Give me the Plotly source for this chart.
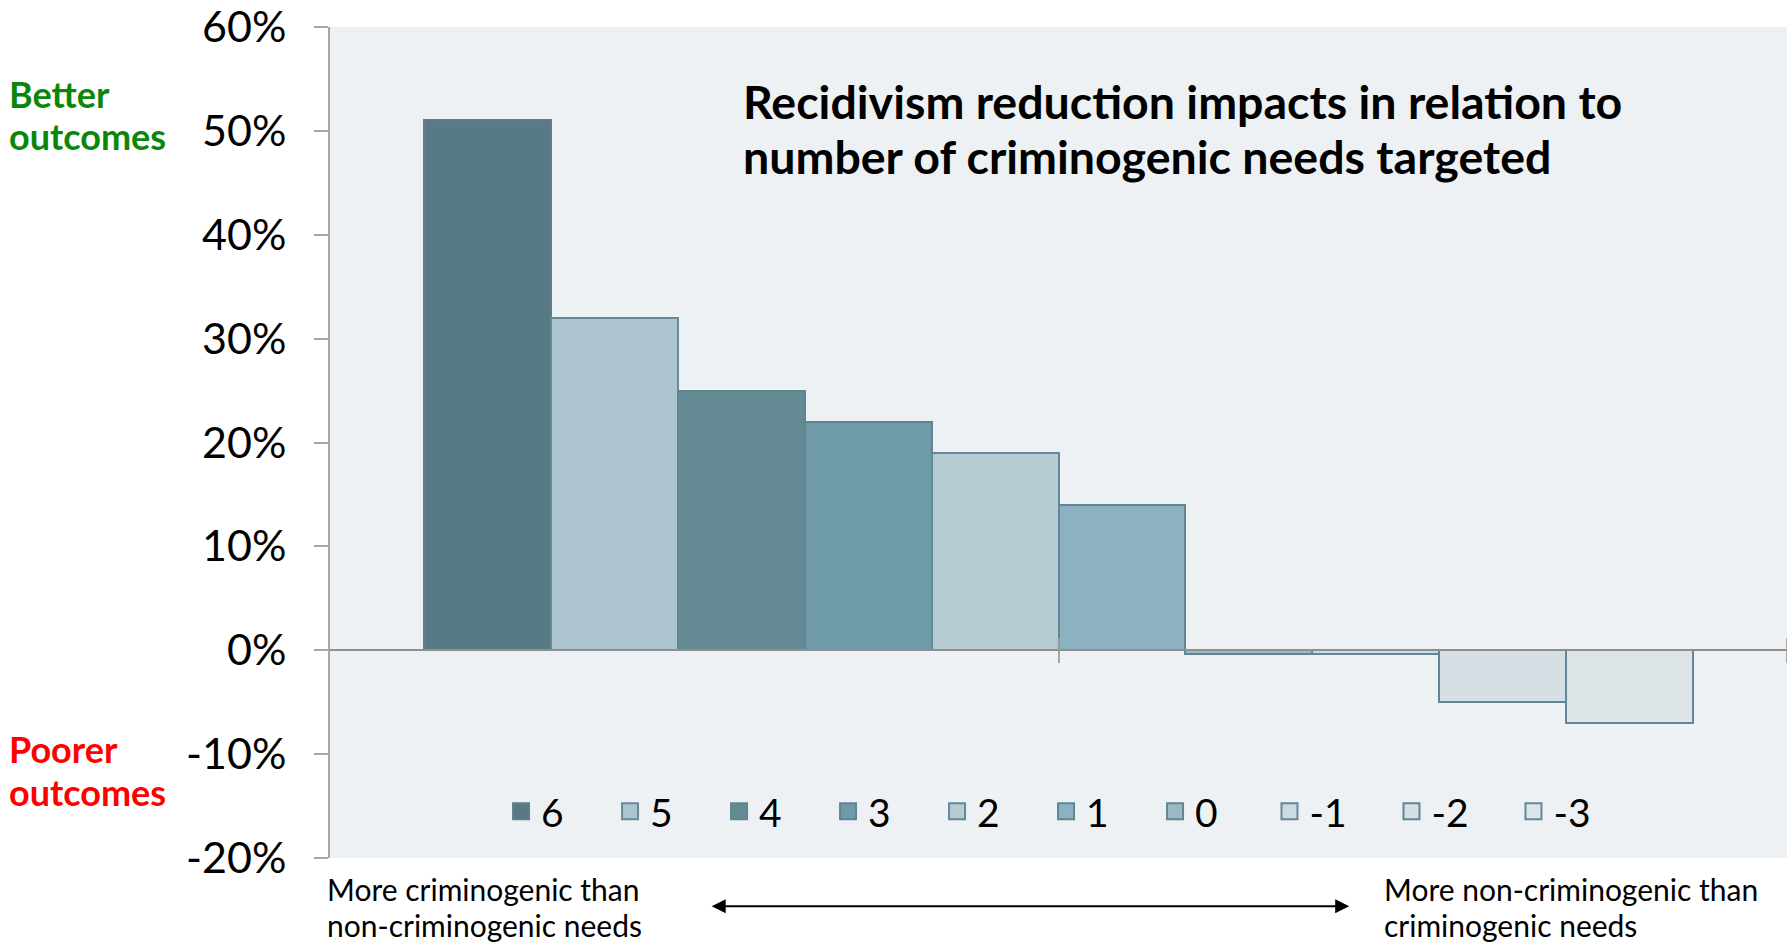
import plotly.graph_objects as go

# Number of criminogenic needs targeted (net of non-criminogenic needs)
needs_targeted = ["6", "5", "4", "3", "2", "1", "0", "-1", "-2", "-3"]
# Recidivism reduction (%)
reduction_pct = [51, 32, 25, 22, 19, 14, -0.4, -0.4, -5, -7]
fill_colors = ["#587A84", "#ACC4CD", "#648A94", "#6F9AA8", "#B5CCD2",
               "#8CB2C1", "#9BBAC6", "#CDDAE0", "#D5DFE4", "#DDE5E8"]
edge_colors = ["#5E7F89", "#668B98", "#5F8591", "#5E8594", "#62889A",
               "#5E8695", "#5E8695", "#62889A", "#5E8695", "#62889A"]
y_ticks = [-20, -10, 0, 10, 20, 30, 40, 50, 60]
y_tick_text = [f"{v}%" for v in y_ticks]

FONT = "Lato"
AXIS_GREY = "#A6A6A6"
X_RANGE = [-1.24, 10.24]
# category boundary ticks along the zero line
boundary_ticks = [4.5, X_RANGE[1]]

fig = go.Figure()

for i, (name, val) in enumerate(zip(needs_targeted, reduction_pct)):
    fig.add_trace(go.Bar(
        x=[i], y=[val], width=1, name=name, legendgroup=name,
        showlegend=False,
        marker=dict(color=fill_colors[i],
                    line=dict(color=edge_colors[i], width=2)),
        hovertemplate=name + ": %{y}%<extra></extra>",
    ))
    # legend entry with a larger square swatch; negative balances get
    # a second legend row segment with wider spacing
    fig.add_trace(go.Scatter(
        x=[None], y=[None], mode="markers", name=name, legendgroup=name,
        legend="legend2" if name.startswith("-") else "legend",
        marker=dict(symbol="square", size=16, color=fill_colors[i],
                    line=dict(color=edge_colors[i], width=2)),
    ))

shapes = []
for t in boundary_ticks:
    shapes.append(dict(type="line", xref="x", yref="y", x0=t, x1=t,
                       ysizemode="pixel", yanchor=0, y0=0, y1=12,
                       line=dict(color=AXIS_GREY, width=2)))


def text_line(text, x, y, size, color="#000000"):
    return dict(text=text, xref="paper", yref="paper", x=x, y=y,
                xanchor="left", yanchor="middle", align="left",
                showarrow=False,
                font=dict(family=FONT, size=size, color=color))


annotations = [
    text_line("<b>Recidivism reduction impacts in relation to</b>",
              0.282, 0.9105, 46.5),
    text_line("<b>number of criminogenic needs targeted</b>",
              0.282, 0.845, 46.5),
    text_line("<b>Better</b>", -0.222, 0.9193, 36, "#0A870A"),
    text_line("<b>outcomes</b>", -0.222, 0.8688, 36, "#0A870A"),
    text_line("<b>Poorer</b>", -0.222, 0.1309, 36, "#FF0000"),
    text_line("<b>outcomes</b>", -0.222, 0.0791, 36, "#FF0000"),
    text_line("More criminogenic than", -0.0033, -0.0372, 30),
    text_line("non-criminogenic needs", -0.0033, -0.0809, 30),
    text_line("More non-criminogenic than", 0.7217, -0.0372, 30),
    text_line("criminogenic needs", 0.7217, -0.0809, 30),
    dict(text="", xref="paper", yref="paper", x=0.6995, y=-0.058,
         ax=-639, ay=0, axref="pixel", ayref="pixel",
         showarrow=True, arrowside="end+start", arrowhead=2,
         arrowsize=1.4, arrowwidth=2, arrowcolor="#000000"),
]

legend_common = dict(orientation="h", xanchor="left", yanchor="middle",
                     bgcolor="rgba(0,0,0,0)",
                     font=dict(family=FONT, size=39, color="#000000"),
                     entrywidthmode="pixels",
                     itemclick=False, itemdoubleclick=False)

fig.update_layout(
    width=1787, height=951,
    margin=dict(l=330, r=0, t=24, b=93),
    paper_bgcolor="#FFFFFF",
    plot_bgcolor="#EDF1F4",
    barmode="overlay",
    bargap=0,
    font=dict(family=FONT, color="#000000"),
    showlegend=True,
    legend=dict(x=0.1174, y=0.056, entrywidth=64, **legend_common),
    legend2=dict(x=0.6448, y=0.056, entrywidth=77, **legend_common),
    xaxis=dict(range=X_RANGE, anchor="free", position=0.25,
               showline=True, linecolor="#8F8F8F", linewidth=2,
               ticks="outside", ticklen=12, tickwidth=2, tickcolor=AXIS_GREY,
               tickvals=boundary_ticks, showticklabels=False,
               showgrid=False, zeroline=False, fixedrange=True),
    yaxis=dict(range=[-20, 60], tickmode="array", tickvals=y_ticks,
               ticktext=y_tick_text, ticklabeloverflow="allow",
               showline=True, linecolor=AXIS_GREY, linewidth=2,
               ticks="outside", ticklen=14, tickwidth=2, tickcolor=AXIS_GREY,
               ticklabelstandoff=19,
               tickfont=dict(family=FONT, size=43, color="#000000"),
               showgrid=False, zeroline=False, fixedrange=True),
    shapes=shapes,
    annotations=annotations,
)

fig.write_html("out.html", config={"displayModeBar": False})
